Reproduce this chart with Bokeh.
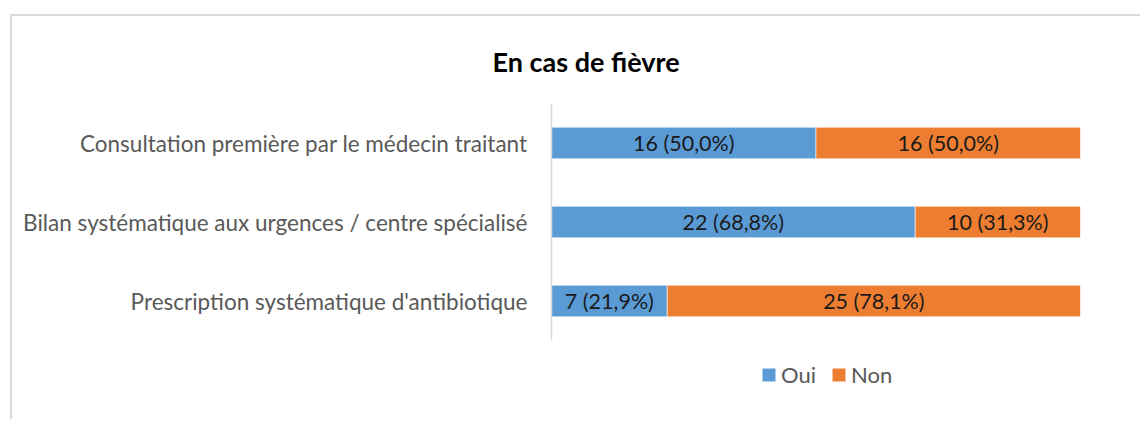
from bokeh.plotting import figure
from bokeh.models import (ColumnDataSource, Range1d, Legend, LegendItem, FixedTicker)
from bokeh.core.properties import value
from bokeh.embed import file_html
from bokeh.resources import INLINE

# ---- data ----
categories = ["Consultation première par le médecin traitant",
              "Bilan systématique aux urgences / centre spécialisé",
              "Prescription systématique d'antibiotique"]
oui = [16, 22, 7]
non = [16, 10, 25]
oui_pct = [50.0, 68.8, 21.9]
non_pct = [50.0, 31.3, 78.1]
series = ["Oui", "Non"]
colors = ["#5B9BD5", "#ED7D31"]
title_text = "En cas de fièvre"

FONT = "Lato"

def lab(v, p):
    return f"{v} ({p:.1f}%)".replace(".", ",")

n = len(categories)
ypos = [n - 0.5 - i for i in range(n)]   # first category at top

src = ColumnDataSource(dict(
    y=ypos,
    oui_left=[0] * n,
    oui_right=oui,
    non_left=oui,
    non_right=[a + b for a, b in zip(oui, non)],
    oui_mid=[a / 2 for a in oui],
    non_mid=[a + b / 2 for a, b in zip(oui, non)],
    oui_lab=[lab(v, p) for v, p in zip(oui, oui_pct)],
    non_lab=[lab(v, p) for v, p in zip(non, non_pct)],
))

total = max(a + b for a, b in zip(oui, non))

W, H = 1130, 405
top_b, left_b, right_b = 87, 539, 62
row_px = 79
frame_h = H - top_b
y_start = n - frame_h / row_px

p = figure(width=W, height=H, output_backend="svg", toolbar_location=None,
           y_range=Range1d(y_start, n), x_range=Range1d(0, total),
           min_border_left=left_b, min_border_right=right_b,
           min_border_top=top_b, min_border_bottom=0)
p.styles = {"margin-left": "10px", "margin-top": "14px",
            "border-left": "2px solid #d9d9d9", "border-top": "2px solid #d9d9d9"}

r1 = p.hbar(y="y", left="oui_left", right="oui_right", height=0.4, source=src,
            fill_color=colors[0], line_color="white", line_alpha=0.6, line_width=1)
r2 = p.hbar(y="y", left="non_left", right="non_right", height=0.4, source=src,
            fill_color=colors[1], line_color="white", line_alpha=0.6, line_width=1)

p.text(x="oui_mid", y="y", text="oui_lab", source=src, text_align="center",
       text_baseline="middle", text_font=value(FONT), text_font_size="21.5px",
       text_color="#1a1a1a")
p.text(x="non_mid", y="y", text="non_lab", source=src, text_align="center",
       text_baseline="middle", text_font=value(FONT), text_font_size="21.5px",
       text_color="#1a1a1a")

p.xaxis.visible = False
p.xgrid.visible = False
p.ygrid.visible = False
p.outline_line_color = None

ya = p.yaxis[0]
ya.ticker = FixedTicker(ticks=ypos)
ya.major_label_overrides = {y: c for y, c in zip(ypos, categories)}
ya.bounds = (0, n)
ya.axis_line_color = "#d9d9d9"
ya.axis_line_width = 1.5
ya.major_tick_line_color = None
ya.minor_tick_line_color = None
ya.major_tick_out = 0
ya.major_tick_in = 0
ya.major_label_standoff = 24
ya.major_label_text_font = FONT
ya.major_label_text_font_size = "22.5px"
ya.major_label_text_color = "#595959"

p.title.text = title_text
p.title.text_font = FONT
p.title.text_font_size = "27px"
p.title.text_font_style = "bold"
p.title.text_color = "#000000"
p.title.align = "left"
p.title.offset = -59
p.title.standoff = 51

legend = Legend(items=[LegendItem(label=series[0], renderers=[r1]),
                       LegendItem(label=series[1], renderers=[r2])],
                orientation="horizontal", location=(209, 33),
                glyph_width=17, glyph_height=17, label_standoff=4, spacing=14,
                padding=0, margin=0, border_line_color=None, background_fill_alpha=0,
                label_text_font=FONT, label_text_font_size="22px",
                label_text_color="#595959")
p.add_layout(legend)

open("out.html", "w").write(file_html(p, INLINE))
